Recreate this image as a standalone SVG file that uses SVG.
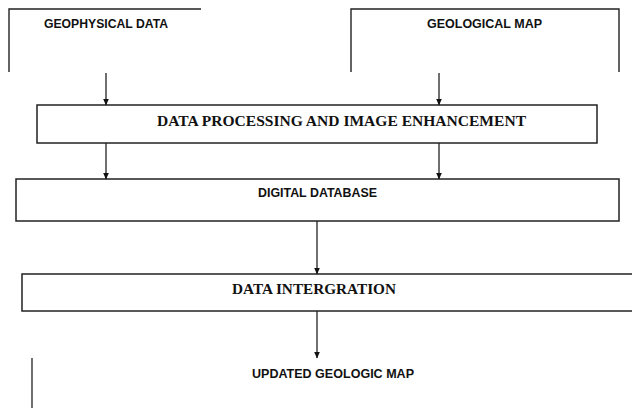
<svg xmlns="http://www.w3.org/2000/svg" width="632" height="410" viewBox="0 0 632 410">
<style>
.box{fill:#fff;stroke:#222;stroke-width:1.5}
.open{fill:none;stroke:#222;stroke-width:1.4}
.sans{font-family:"Liberation Sans",Arial,sans-serif;font-weight:bold;font-size:12px;fill:#111}
.serif{font-family:"Liberation Serif","Times New Roman",serif;font-weight:bold;font-size:15px;fill:#111}
.conn{stroke:#222;stroke-width:1.3;fill:none;marker-end:url(#ah)}
</style>
<defs>
<marker id="ah" markerWidth="7" markerHeight="8" refX="6.5" refY="3.5" orient="auto" markerUnits="userSpaceOnUse">
<path d="M0,0.5 L7,3.5 L0,6.5 z" fill="#111"/>
</marker>
</defs>
<rect width="632" height="410" fill="#fff"/>
<g id="geophysical-data">
<path class="open" d="M9,72 V9 H201"/>
<text class="sans" x="44" y="28" textLength="124" lengthAdjust="spacingAndGlyphs">GEOPHYSICAL DATA</text>
</g>
<g id="geological-map">
<path class="open" d="M351,72 V9 H619 V72"/>
<text class="sans" x="427" y="28" textLength="115" lengthAdjust="spacingAndGlyphs">GEOLOGICAL MAP</text>
</g>
<g id="data-processing">
<rect class="box" x="37" y="105" width="560" height="38"/>
<text class="serif" x="157" y="126" textLength="369" lengthAdjust="spacingAndGlyphs">DATA PROCESSING AND IMAGE ENHANCEMENT</text>
</g>
<g id="digital-database">
<rect class="box" x="16" y="179" width="603" height="42"/>
<text class="sans" x="258" y="197" textLength="119" lengthAdjust="spacingAndGlyphs">DIGITAL DATABASE</text>
</g>
<g id="data-integration">
<rect class="box" x="22" y="274" width="620" height="37"/>
<text class="serif" x="232" y="294" textLength="164" lengthAdjust="spacingAndGlyphs">DATA INTERGRATION</text>
</g>
<g id="updated-geologic-map">
<text class="sans" x="252" y="378" textLength="162" lengthAdjust="spacingAndGlyphs">UPDATED GEOLOGIC MAP</text>
</g>
<g id="stray-line">
<line x1="32" y1="358" x2="32" y2="408" stroke="#222" stroke-width="1.3"/>
</g>
<g id="connectors">
<line class="conn" x1="106" y1="73" x2="106" y2="105"/>
<line class="conn" x1="439" y1="73" x2="439" y2="105"/>
<line class="conn" x1="106" y1="143" x2="106" y2="179"/>
<line class="conn" x1="439" y1="143" x2="439" y2="179"/>
<line class="conn" x1="317" y1="221" x2="317" y2="274"/>
<line class="conn" x1="317" y1="311" x2="317" y2="358"/>
</g>
</svg>
